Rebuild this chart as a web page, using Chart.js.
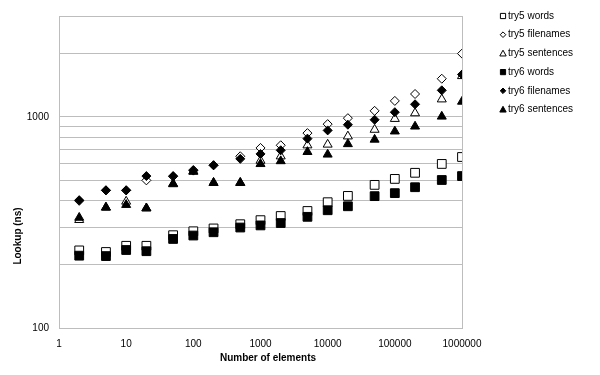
<!DOCTYPE html>
<html>
<head>
<meta charset="utf-8">
<script src="https://cdn.jsdelivr.net/npm/chart.js@4/dist/chart.umd.min.js"></script>
<style>
  html, body { margin: 0; padding: 0; background: #fff; }
  #wrap { width: 600px; height: 375px; }
</style>
</head>
<body>
<div id="wrap"><canvas id="chart" width="600" height="375"></canvas></div>
<script>
  // number of elements (x) and lookup times in ns (y)
  const elements = [2, 5, 10, 20, 50, 100, 200, 500, 1000, 2000, 5000, 10000, 20000, 50000, 100000, 200000, 500000, 1000000];

  const try5Words     = [233, 229, 245, 245, 275, 287, 296, 310, 324, 339, 358, 394, 422, 476, 508, 543, 598, 645];
  const try5Filenames = [400, 448, 448, 500, 522, 560, 590, 650, 712, 733, 837, 923, 985, 1067, 1189, 1282, 1514, 1991];
  const try5Sentences = [325, 372, 397, 369, 480, 552, 487, 487, 620, 650, 733, 739, 808, 869, 978, 1040, 1210, 1560];
  const try6Words     = [220, 219, 234, 231, 264, 274, 284, 299, 306, 314, 336, 361, 377, 421, 435, 464, 502, 524];
  const try6Filenames = [403, 449, 449, 524, 524, 556, 589, 632, 667, 694, 788, 862, 917, 968, 1051, 1146, 1334, 1586];
  const try6Sentences = [333, 372, 383, 369, 482, 550, 487, 487, 598, 617, 682, 663, 743, 780, 853, 900, 1003, 1180];

  const xTicks = [1, 10, 100, 1000, 10000, 100000, 1000000];
  const yGrid = [100, 200, 300, 400, 500, 600, 700, 800, 900, 1000, 2000, 3000];
  const yLabels = [100, 1000];

  const FONT = "'Liberation Sans', Arial, sans-serif";
  const GRID = "#bdbdbd";

  function points(ys) {
    return ys.map((y, i) => ({ x: elements[i], y: y }));
  }

  // open markers = try5, filled = try6 (try6 sits on top, as in the original)
  function series(label, ys, style, radius, filled) {
    return {
      label: label,
      data: points(ys),
      pointStyle: style,
      pointRadius: radius,
      pointHoverRadius: radius,
      pointBorderWidth: 1,
      pointBorderColor: "#000",
      pointBackgroundColor: filled ? "#000" : "#fff",
      showLine: false,
      order: filled ? 0 : 1,
    };
  }

  const datasets = [
    series("try5 words", try5Words, "rect", 6.2, false),
    series("try5 filenames", try5Filenames, "rectRot", 4.5, false),
    series("try5 sentences", try5Sentences, "triangle", 5.2, false),
    series("try6 words", try6Words, "rect", 6.2, true),
    series("try6 filenames", try6Filenames, "rectRot", 4.5, true),
    series("try6 sentences", try6Sentences, "triangle", 5.2, true),
  ];

  function marker(ctx, style, x, y, r, filled) {
    ctx.beginPath();
    if (style === "rect") {
      ctx.rect(x - r, y - r, 2 * r, 2 * r);
    } else if (style === "rectRot") {
      ctx.moveTo(x, y - r); ctx.lineTo(x + r, y); ctx.lineTo(x, y + r); ctx.lineTo(x - r, y);
      ctx.closePath();
    } else {
      ctx.moveTo(x, y - r); ctx.lineTo(x + r, y + r * 0.8); ctx.lineTo(x - r, y + r * 0.8);
      ctx.closePath();
    }
    ctx.fillStyle = filled ? "#000" : "#fff";
    ctx.fill();
    ctx.strokeStyle = "#000";
    ctx.lineWidth = 1;
    ctx.stroke();
  }

  const frameAndText = {
    id: "frameAndText",
    beforeDatasetsDraw(chart) {
      const { ctx, chartArea: a } = chart;
      ctx.save();
      ctx.strokeStyle = GRID;
      ctx.lineWidth = 1;
      ctx.strokeRect(Math.round(a.left) + 0.5, Math.round(a.top) + 0.5, Math.round(a.right - a.left), Math.round(a.bottom - a.top));
      ctx.restore();
    },
    afterDraw(chart) {
      const ctx = chart.ctx;
      ctx.save();
      ctx.fillStyle = "#000";
      ctx.font = "bold 10px " + FONT;
      ctx.textAlign = "center";
      ctx.textBaseline = "middle";
      ctx.fillText("Number of elements", 268, 358);
      ctx.save();
      ctx.translate(18, 236);
      ctx.rotate(-Math.PI / 2);
      ctx.fillText("Lookup (ns)", 0, 0);
      ctx.restore();

      // legend
      ctx.font = "10px " + FONT;
      ctx.textAlign = "left";
      const sizes = { rect: 2.6, rectRot: 2.8, triangle: 3.2 };
      chart.data.datasets.forEach((ds, i) => {
        const y = 16 + i * 18.7;
        marker(ctx, ds.pointStyle, 503, y, sizes[ds.pointStyle], ds.pointBackgroundColor === "#000");
        ctx.fillStyle = "#000";
        ctx.fillText(ds.label, 508, y);
      });
      ctx.restore();
    },
  };

  new Chart(document.getElementById("chart"), {
    type: "scatter",
    data: { datasets: datasets },
    options: {
      responsive: false,
      animation: false,
      devicePixelRatio: 1,
      layout: { padding: { left: 0, top: 14, right: 138, bottom: 0 } },
      plugins: { legend: { display: false }, tooltip: { enabled: false } },
      scales: {
        x: {
          type: "logarithmic",
          min: 1,
          max: 1000000,
          afterBuildTicks: (s) => { s.ticks = xTicks.map((v) => ({ value: v })); },
          afterFit: (s) => { s.height = 47; },
          grid: { display: false, drawTicks: false },
          border: { display: false },
          ticks: { autoSkip: false, maxRotation: 0, padding: 10, color: "#000", font: { family: FONT, size: 10 }, callback: (v) => String(v) },
        },
        y: {
          type: "logarithmic",
          min: 100,
          max: 3000,
          afterBuildTicks: (s) => { s.ticks = yGrid.map((v) => ({ value: v })); },
          afterFit: (s) => { s.width = 59; },
          grid: { color: GRID, lineWidth: 1, drawTicks: false },
          border: { display: false },
          ticks: { autoSkip: false, padding: 10, color: "#000", font: { family: FONT, size: 10 }, callback: (v) => (yLabels.includes(v) ? String(v) : "") },
        },
      },
    },
    plugins: [frameAndText],
  });
</script>
</body>
</html>
